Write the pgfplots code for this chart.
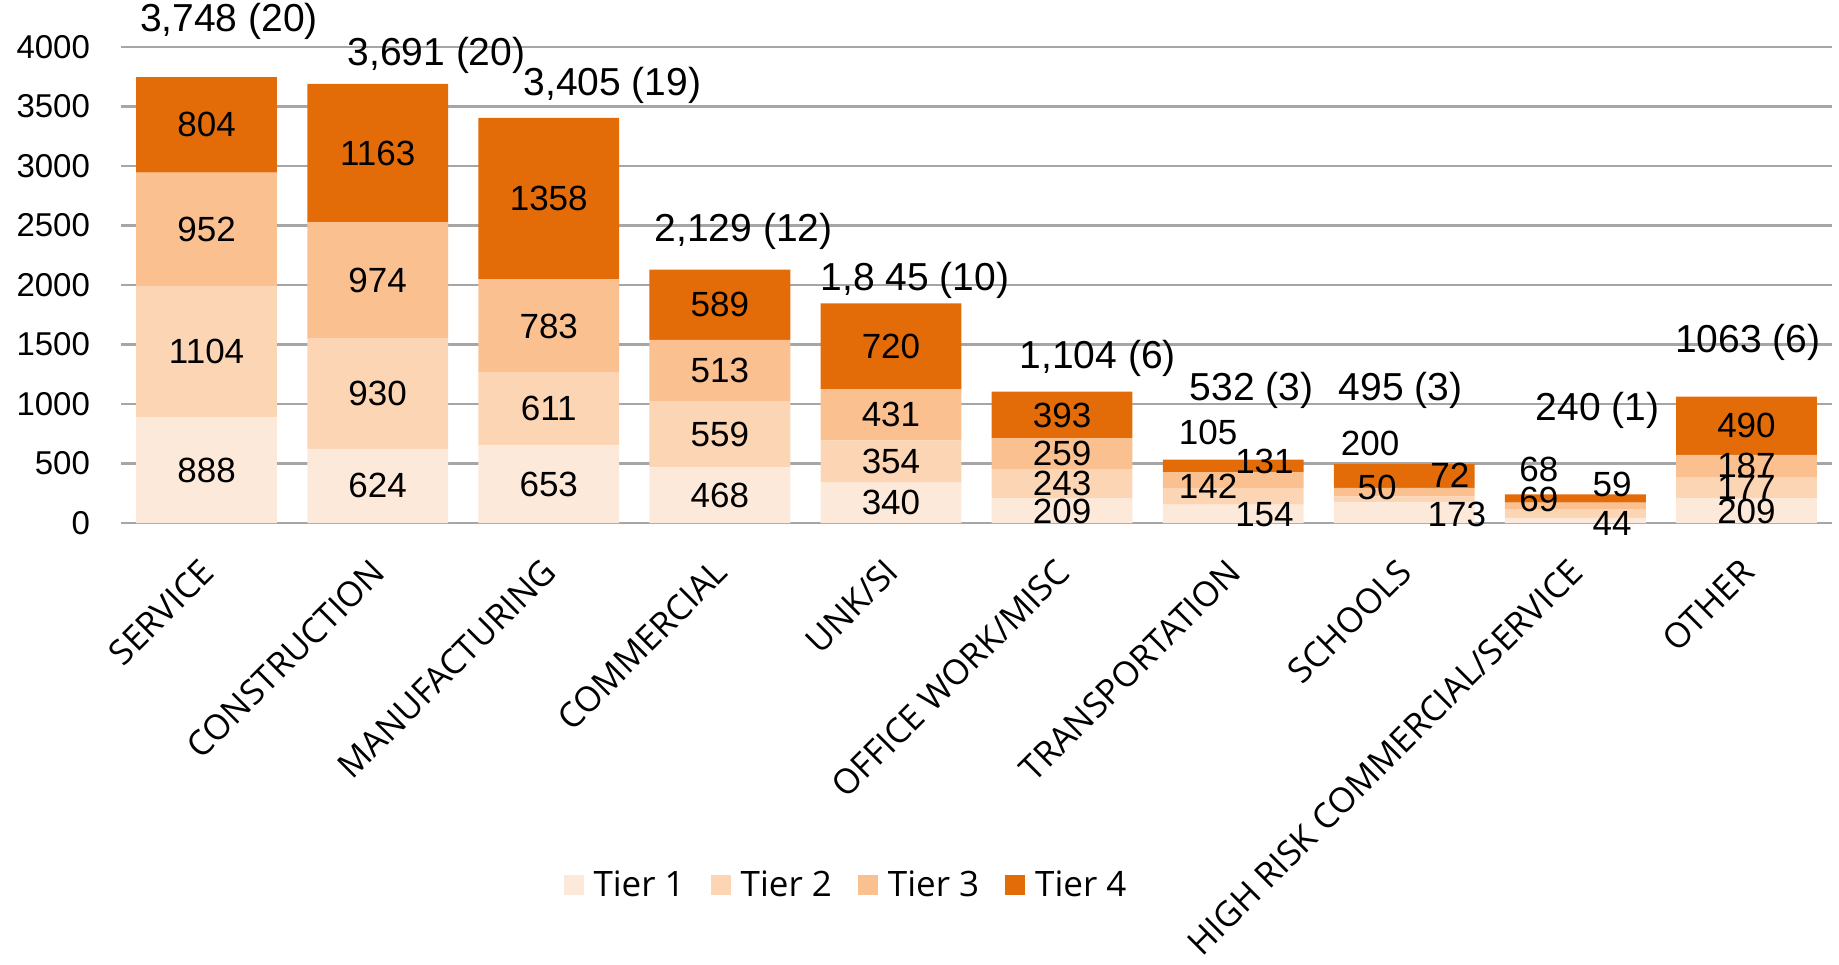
\documentclass[border=0pt]{standalone}
\usepackage{fontspec}
\setmainfont{Liberation Sans}
\newfontfamily\catfont{Open Sans}
\usepackage{pgfplots}
\usepackage{pgfplotstable}
\pgfplotsset{compat=1.18}
\definecolor{tA}{HTML}{FDE9D9}
\definecolor{tB}{HTML}{FCD5B4}
\definecolor{tC}{HTML}{FAC08F}
\definecolor{tD}{HTML}{E36C09}
\definecolor{gridc}{HTML}{A6A6A6}

\pgfplotstableread{
x t1 t2 t3 t4
0 888 1104 952 804
1 624 930 974 1163
2 653 611 783 1358
3 468 559 513 589
4 340 354 431 720
5 209 243 259 393
6 154 142 131 105
7 173 50 72 200
8 44 69 59 68
9 209 177 187 490
}\bars

\pgfplotstableread[col sep=semicolon]{
x;y;lab
0;444;888
0;1440;1104
0;2468;952
0;3346;804
1;312;624
1;1089;930
1;2041;974
1;3109.5;1163
2;326.5;653
2;958.5;611
2;1655.5;783
2;2726;1358
3;234;468
3;747.5;559
3;1283.5;513
3;1834.5;589
4;170;340
4;517;354
4;909.5;431
4;1485;720
5;95;209
5;330.5;243
5;581.5;259
5;907.5;393
6.183;69;154
5.854;305;142
6.183;515;131
5.854;759;105
7.307;69;173
6.841;296;50
7.266;404;72
6.800;670;200
8.215;0;44
7.786;194;69
8.215;328;59
7.786;453;68
9;95;209
9;297.5;177
9;479.5;187
9;818;490
}\seglabels

\pgfplotstableread[col sep=semicolon]{
x;y;lab
0.131;4217;3,748 (20)
1.344;3931;3,691 (20)
2.372;3675;3,405 (19)
3.139;2453;2,129 (12)
4.140;2039;1,8 45 (10)
5.209;1379;1,104 (6)
6.107;1113;532 (3)
6.978;1113;495 (3)
8.129;946;240 (1)
9.007;1517;1063 (6)
}\totlabels

\begin{document}
\begin{tikzpicture}
\begin{axis}[
  name=main,
  scale only axis, width=855.5pt, height=238pt,
  xmin=-0.5, xmax=9.5, ymin=0, ymax=4000,
  ybar stacked, bar width=70.4pt,
  axis line style={draw=none},
  major tick length=0pt,
  ymajorgrids, grid style={draw=gridc, line width=1.1pt},
  ytick={0,500,...,4000},
  scaled y ticks=false,
  /pgf/number format/1000 sep={},
  /pgf/number format/assume math mode=true,
  xtick={0,...,9},
  xticklabels={SERVICE, CONSTRUCTION, MANUFACTURING, COMMERCIAL, UNK/SI, OFFICE WORK/MISC, TRANSPORTATION, SCHOOLS, HIGH RISK COMMERCIAL/SERVICE, OTHER},
  yticklabel style={font=\fontsize{16.5}{19}\selectfont, anchor=east, xshift=-12pt},
  xticklabel style={font=\catfont\fontsize{17.3}{20}\selectfont, yshift=-19pt, xshift=3pt, rotate=45, anchor=east},
  legend style={at={(0.4243,-0.7605)}, anchor=center, draw=none, legend columns=-1,
    font=\catfont\fontsize{17.5}{20}\selectfont,
    /tikz/every even column/.append style={column sep=11pt},
    /tikz/every odd column/.append style={column sep=3pt}},
  legend image code/.code={\fill[#1] (0pt,-5pt) rectangle (10pt,5pt);},
]
\addplot[fill=tA, draw=none] table[x=x,y=t1]{\bars};
\addlegendentry{Tier 1}
\addplot[fill=tB, draw=none] table[x=x,y=t2]{\bars};
\addlegendentry{Tier 2}
\addplot[fill=tC, draw=none] table[x=x,y=t3]{\bars};
\addlegendentry{Tier 3}
\addplot[fill=tD, draw=none] table[x=x,y=t4]{\bars};
\addlegendentry{Tier 4}
\end{axis}
\begin{axis}[
  at={(main.south west)}, anchor=south west,
  scale only axis, width=855.5pt, height=238pt,
  xmin=-0.5, xmax=9.5, ymin=0, ymax=4000,
  hide axis, clip=false,
]
\addplot[draw=none, mark=none, nodes near coords, point meta=explicit symbolic,
  every node near coord/.append style={anchor=center, font=\fontsize{17.5}{20}\selectfont}]
  table[x=x,y=y,meta=lab]{\seglabels};
\addplot[draw=none, mark=none, nodes near coords, point meta=explicit symbolic,
  every node near coord/.append style={anchor=center, font=\fontsize{19.5}{22}\selectfont}]
  table[x=x,y=y,meta=lab]{\totlabels};
\end{axis}
\pgfresetboundingbox
\path (main.south west) ++(-60.5pt,-220.5pt) rectangle ++(919.5pt,482pt);
\end{tikzpicture}
\end{document}
